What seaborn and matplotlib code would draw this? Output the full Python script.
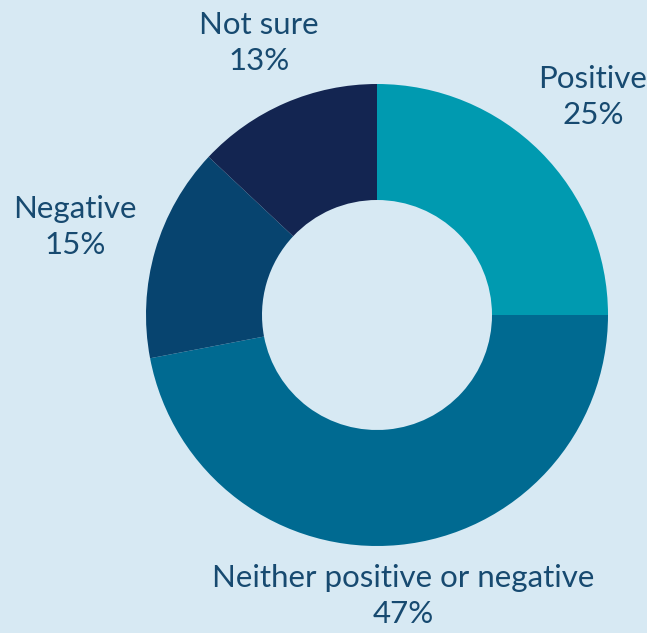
import matplotlib
matplotlib.use("Agg")
import matplotlib.pyplot as plt
import seaborn as sns

categories = ["Positive", "Neither positive or negative", "Negative", "Not sure"]
values = [25, 47, 15, 13]
colors = ["#009ab0", "#006a91", "#07446f", "#132551"]
label_texts = [f"{c}\n{v}%" for c, v in zip(categories, values)]

BG = "#d7e9f3"
TXT = "#174a70"

sns.set_theme(style="white")
plt.rcParams["font.family"] = ["Lato", "DejaVu Sans"]

W, H = 647, 633
fig = plt.figure(figsize=(W / 100, H / 100), dpi=100, facecolor=BG)
ax = fig.add_axes([0, 0, 1, 1])
ax.set_facecolor(BG)

cx, cy = 377, H - 315
R = 231
ax.pie(values, colors=colors, startangle=90, counterclock=False,
       center=(cx, cy), radius=R, frame=True,
       wedgeprops=dict(width=R - 115, linewidth=0))
ax.set_xlim(0, W)
ax.set_ylim(0, H)
ax.set_aspect("equal")
ax.axis("off")

label_pos = [(593, H - 97), (403, H - 596), (75, H - 227), (259, H - 43)]
for txt, (x, y) in zip(label_texts, label_pos):
    ax.text(x, y, txt, ha="center", va="center", fontsize=22.5,
            color=TXT, linespacing=1.36)

fig.savefig("out.png", dpi=100, facecolor=BG)
